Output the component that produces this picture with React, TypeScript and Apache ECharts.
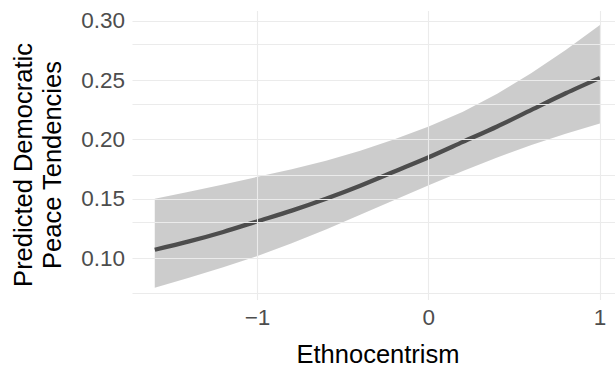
import React, { useEffect, useRef } from "react";
import * as echarts from "echarts";

// Ethnocentrism values at which predictions were computed
const ethnocentrism = [-1.6, -1.4, -1.2, -1.0, -0.8, -0.6, -0.4, -0.2, 0, 0.2, 0.4, 0.6, 0.8, 1.0];
// Predicted democratic peace tendencies and the confidence band
const predicted = [0.107, 0.114, 0.122, 0.131, 0.140, 0.150, 0.161, 0.173, 0.185, 0.198, 0.211, 0.225, 0.239, 0.252];
const upperBound = [0.150, 0.156, 0.162, 0.1685, 0.175, 0.182, 0.1905, 0.2003, 0.211, 0.2235, 0.2385, 0.256, 0.2755, 0.2965];
const lowerBound = [0.075, 0.0834, 0.0922, 0.1017, 0.1125, 0.124, 0.1365, 0.149, 0.1615, 0.1735, 0.1848, 0.1953, 0.2048, 0.2135];

// Axis ticks and gridlines
const xTicks = [-1, 0, 1];
const yTicks = [0.1, 0.15, 0.2, 0.25, 0.3];
const yGrid = [0.075, 0.1, 0.125, 0.15, 0.175, 0.2, 0.225, 0.25, 0.275, 0.3];

const FONT = '"Liberation Sans", Arial, Helvetica, sans-serif';

export default function App() {
  const ref = useRef<HTMLDivElement>(null);

  useEffect(() => {
    document.body.style.margin = "0";
    if (!ref.current) return;
    const chart = echarts.init(ref.current, null, { renderer: "svg" });

    const lineData = ethnocentrism.map((x, i) => [x, predicted[i]]);
    const bandData = ethnocentrism.map((x, i) => [x, lowerBound[i], upperBound[i]]);

    const gridLines = [
      ...yGrid.map((v) => ({ yAxis: v })),
      ...xTicks.map((v) => ({ xAxis: v })),
    ];

    // confidence ribbon: one polygon through the upper edge and back along the lower edge
    const renderBand = (params: any, api: any) => {
      if (params.dataIndex !== 0) return null;
      const top = bandData.map((d) => api.coord([d[0], d[2]]));
      const bottom = bandData.map((d) => api.coord([d[0], d[1]])).reverse();
      return {
        type: "polygon",
        shape: { points: top.concat(bottom) },
        style: { fill: "rgba(0,0,0,0.2)", stroke: "none" },
        silent: true,
      };
    };

    chart.setOption({
      animation: false,
      backgroundColor: "#ffffff",
      grid: { left: 132.5, right: 0, top: 11, bottom: 67 },
      xAxis: {
        type: "value",
        min: -1.73,
        max: 1.088,
        axisLine: { show: false },
        axisTick: { show: false, customValues: xTicks },
        splitLine: { show: false },
        axisLabel: {
          customValues: xTicks,
          margin: 17,
          verticalAlign: "middle",
          fontFamily: FONT,
          fontSize: 22.5,
          color: "#4d4d4d",
          formatter: (v: number) => (v < 0 ? "\u2212" + Math.abs(v) : String(v)),
        },
      },
      yAxis: {
        type: "value",
        min: 0.0646,
        max: 0.3084,
        axisLine: { show: false },
        axisTick: { show: false, customValues: yTicks },
        splitLine: { show: false },
        axisLabel: {
          customValues: yTicks,
          margin: 7.5,
          fontFamily: FONT,
          fontSize: 22.5,
          color: "#4d4d4d",
          formatter: (v: number) => v.toFixed(2),
        },
      },
      graphic: [
        {
          type: "text",
          x: 378,
          y: 354,
          style: {
            text: "Ethnocentrism",
            font: `25.5px ${FONT}`,
            fill: "#000000",
            align: "center",
            verticalAlign: "middle",
          },
        },
        {
          type: "text",
          x: 37.5,
          y: 165,
          rotation: Math.PI / 2,
          style: {
            text: "Predicted Democratic\nPeace Tendencies",
            font: `25.5px ${FONT}`,
            fill: "#000000",
            align: "center",
            verticalAlign: "middle",
            lineHeight: 28.5,
          },
        },
      ],
      series: [
        {
          // carries the panel gridlines underneath everything else
          type: "line",
          name: "grid",
          data: lineData,
          symbol: "none",
          silent: true,
          z: 1,
          lineStyle: { opacity: 0 },
          markLine: {
            silent: true,
            symbol: ["none", "none"],
            label: { show: false },
            emphasis: { disabled: true },
            lineStyle: { type: "solid", color: "#ebebeb", width: 1.1 },
            data: gridLines,
          },
        },
        {
          type: "custom",
          name: "band",
          data: bandData,
          encode: { x: 0, y: [1, 2] },
          renderItem: renderBand,
          silent: true,
          z: 2,
        },
        {
          type: "line",
          name: "predicted",
          data: lineData,
          symbol: "none",
          silent: true,
          smooth: 0.3,
          z: 3,
          lineStyle: { color: "#4d4d4d", width: 4.3, cap: "butt" },
        },
      ],
    });

    return () => chart.dispose();
  }, []);

  return <div ref={ref} style={{ width: 615, height: 367 }} />;
}
